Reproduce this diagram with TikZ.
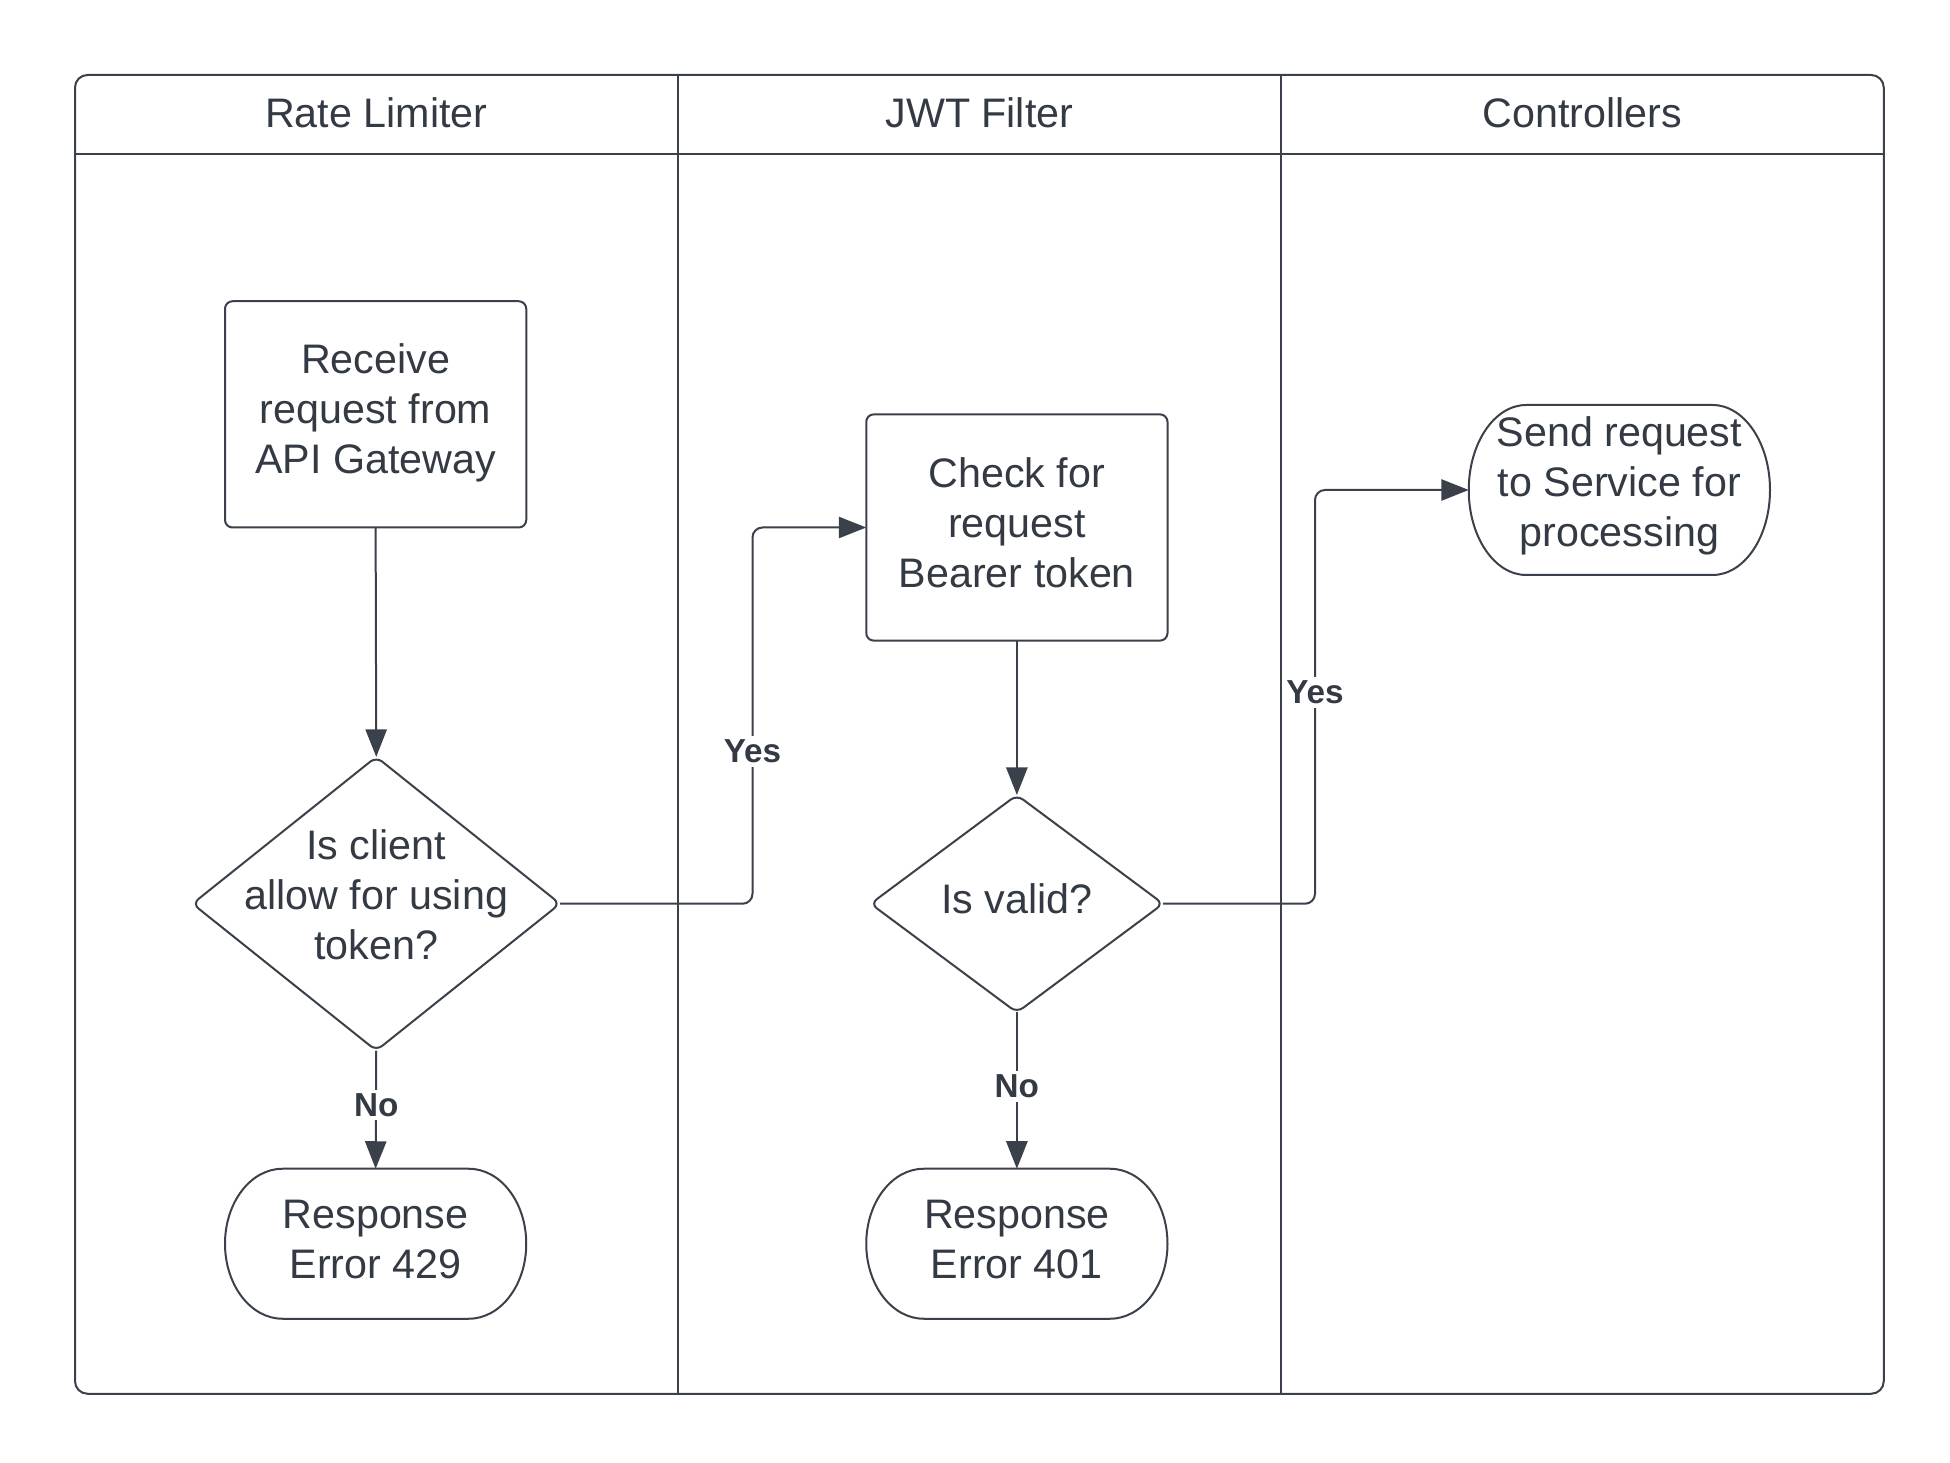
\documentclass[tikz,border=0pt]{standalone}
\usepackage{fontspec}
\setmainfont{Liberation Sans}
\usetikzlibrary{arrows.meta}
\definecolor{ln}{HTML}{3A414A}
\definecolor{tx}{HTML}{333A44}
\tikzset{
  lane/.style={draw=ln, line width=0.8pt},
  txt/.style={text=tx, font=\fontsize{16.5}{20}\selectfont, align=center, inner sep=0pt, outer sep=0pt},
  shp/.style={inner sep=0pt, outer sep=0pt},
  procbox/.style={shp, draw=ln, line width=0.8pt, rounded corners=3pt, minimum width=120.5pt, minimum height=90.5pt},
  termbox/.style={shp, minimum width=120.5pt, minimum height=60pt},
  lbl/.style={text=tx, font=\fontsize{13.3}{15}\selectfont\bfseries, fill=white, inner sep=1.5pt},
  arr/.style={draw=ln, line width=0.8pt, -{Triangle[length=11pt,width=8.5pt]}, rounded corners=4pt},
}
\newcommand\termshape[3]{% node, rx, ry
  \draw[lane] ([xshift=#2]#1.north west) -- ([xshift=-#2]#1.north east)
    arc[start angle=90, end angle=-90, x radius=#2, y radius=#3]
    -- ([xshift=#2]#1.south west)
    arc[start angle=270, end angle=90, x radius=#2, y radius=#3] -- cycle;}
\newcommand\diamshape[1]{%
  \draw[lane, rounded corners=3pt] (#1.north) -- (#1.east) -- (#1.south) -- (#1.west) -- cycle;}
\begin{document}
\begin{tikzpicture}[x=0.5pt, y=-0.5pt]
\useasboundingbox (0,0) rectangle (1560,1170);
% swimlane frame
\draw[lane, rounded corners=5pt] (60,60) rectangle (1507,1115);
\draw[lane] (60,123) -- (1507,123);
\draw[lane] (542,60) -- (542,1115);
\draw[lane] (1025,60) -- (1025,1115);
\node[txt] (h1) at (301,90) {Rate Limiter};
\node[txt] (h2) at (783.5,90) {JWT Filter};
\node[txt] (h3) at (1266,90) {Controllers};
% shapes
\node[procbox] (rcv) at (300.5,331.5) {};
\node[shp, minimum width=147pt, minimum height=117.5pt] (d1) at (301,723) {};
\diamshape{d1}
\node[termbox] (r429) at (300.5,995) {};
\termshape{r429}{23pt}{30pt}
\node[procbox] (chk) at (813.5,422) {};
\node[shp, minimum width=117pt, minimum height=87pt] (d2) at (813.5,723) {};
\diamshape{d2}
\node[termbox] (r401) at (813.5,995) {};
\termshape{r401}{23pt}{30pt}
\node[termbox, minimum height=68pt] (snd) at (1295.5,392) {};
\termshape{snd}{23pt}{34pt}
% texts
\node[txt] (rcvt) at ([yshift=0.5pt]rcv.center) {Receive\\request from\\API Gateway};
\node[txt] (d1t) at ([yshift=3.5pt]d1.center) {Is client\\allow for using\\token?};
\node[txt] (r429t) at ([yshift=1.5pt]r429.center) {Response\\Error 429};
\node[txt] (chkt) at ([yshift=2pt]chk.center) {Check for\\request\\Bearer token};
\node[txt] (d2t) at ([yshift=2pt]d2.center) {Is valid?};
\node[txt] (r401t) at ([yshift=1.5pt]r401.center) {Response\\Error 401};
\node[txt] (sndt) at ([yshift=1.5pt]snd.center) {Send request\\to Service for\\processing};
% connectors
\draw[arr] (rcv.south) -- (d1.north);
\draw[arr] (d1.east) -- ++(154,0) |- (chk.west);
\draw[arr] (d1.south) -- (r429.north);
\draw[arr] (chk.south) -- (d2.north);
\draw[arr] (d2.south) -- (r401.north);
\draw[arr] (d2.east) -- ++(121.5,0) |- (snd.west);
% labels
\node[lbl] (y1) at (602,601) {Yes};
\node[lbl] (n1) at (301,884) {No};
\node[lbl] (n2) at (813.5,869) {No};
\node[lbl] (y2) at (1052,554) {Yes};
\end{tikzpicture}
\end{document}
